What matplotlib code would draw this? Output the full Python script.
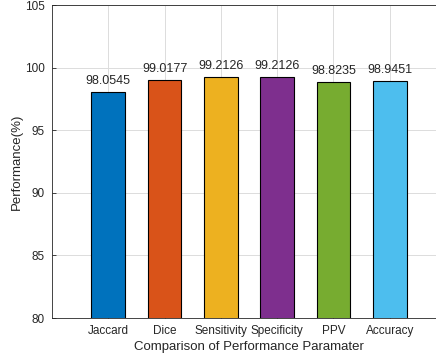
import matplotlib
matplotlib.use("Agg")
import matplotlib.pyplot as plt

categories = ["Jaccard", "Dice", "Sensitivity", "Specificity", "PPV", "Accuracy"]
values = [98.0545, 99.0177, 99.2126, 99.2126, 98.8235, 98.9451]
labels = ["98.0545", "99.0177", "99.2126", "99.2126", "98.8235", "98.9451"]
colors = ["#0072BD", "#D95319", "#EDB120", "#7E2F8E", "#77AC30", "#4DBEEE"]
yticks = [80, 85, 90, 95, 100, 105]

plt.rcParams['font.family'] = ['Liberation Sans', 'DejaVu Sans']

fig = plt.figure(figsize=(4.36, 3.61), dpi=100)
ax = fig.add_axes([52/436, 1-318/361, 394/436, 313/361])
x = list(range(1, len(categories) + 1))
ax.bar(x, values, width=0.6, color=colors, edgecolor="black", linewidth=0.8, zorder=3)
for xi, v, lab in zip(x, values, labels):
    ax.text(xi, v + 0.4, lab, ha="center", va="bottom", fontsize=9, color="#262626", zorder=4)
ax.set_xlim(0, 7)
ax.set_ylim(80, 105)
ax.set_xticks(x)
ax.set_xticklabels(categories)
ax.set_yticks(yticks)
ax.grid(True, color="#dcdcdc", linewidth=0.7, zorder=0)
ax.set_axisbelow(True)
ax.tick_params(direction="in", labelsize=8.5, colors="#262626", length=3, width=0.6, pad=5)
for s in ax.spines.values():
    s.set_color("#262626")
    s.set_linewidth(0.6)
ax.set_xlabel("Comparison of Performance Paramater", fontsize=9.5, color="#262626", labelpad=3)
ax.set_ylabel("Performance(%)", fontsize=9.5, color="#262626", labelpad=2)
fig.savefig("out.png", dpi=100)
